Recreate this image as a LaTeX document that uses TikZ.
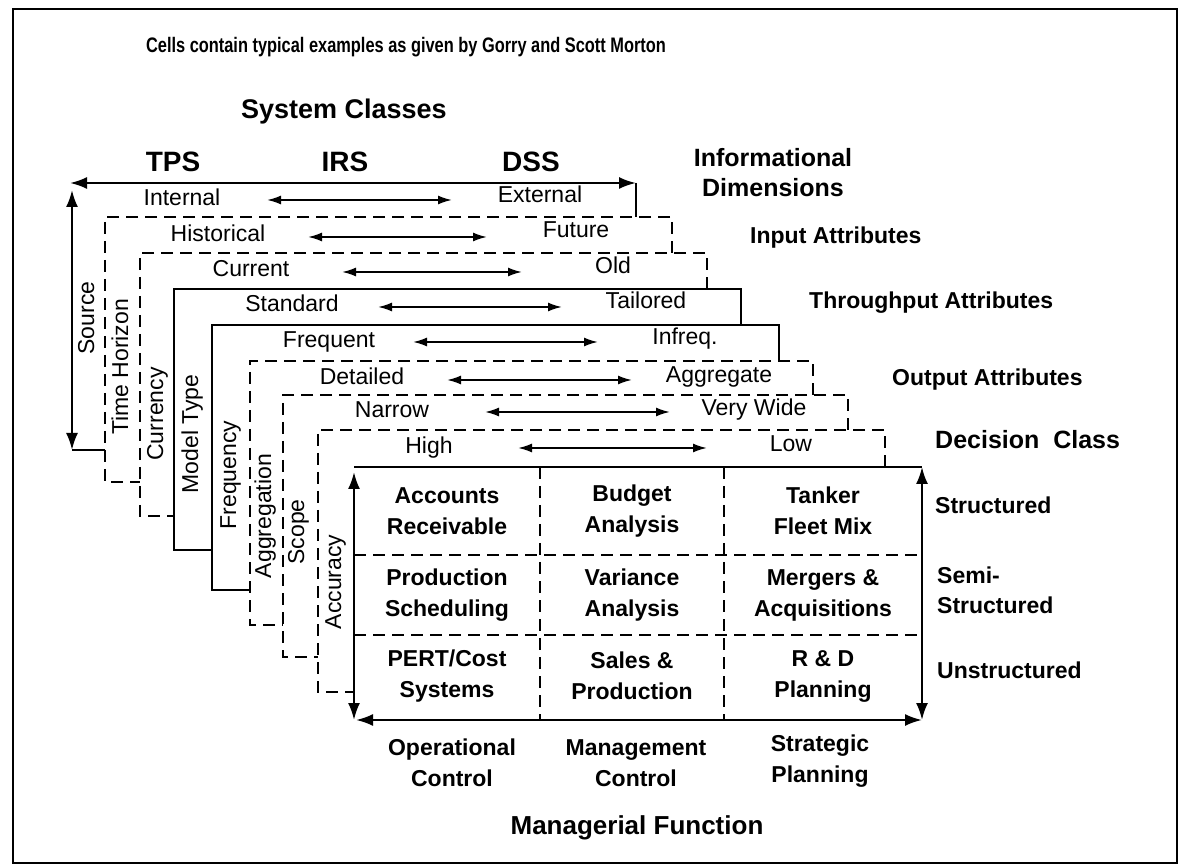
\documentclass[tikz,border=0pt]{standalone}
\usepackage{fontspec}
\setmainfont{Liberation Sans}
\usetikzlibrary{arrows.meta}
\begin{document}
\begin{tikzpicture}[x=1pt,y=-1pt,
  frameline/.style={line width=2.2pt},
  dashline/.style={line width=2pt, dash pattern=on 12pt off 7pt},
  bigarrow/.style={line width=2.2pt, {Latex[length=17pt,width=12pt]}-{Latex[length=17pt,width=12pt]}},
  pairarrow/.style={line width=1.9pt, {Latex[length=14pt,width=9pt]}-{Latex[length=14pt,width=9pt]}},
  plainlbl/.style={font=\fontsize{23}{27}\selectfont, inner sep=0pt, text height=16pt, text depth=4pt},
  vertlbl/.style={plainlbl, rotate=90},
  boldlbl/.style={font=\bfseries\fontsize{23}{31}\selectfont, inner sep=0pt, align=center},
  sidelbl/.style={font=\bfseries\fontsize{23}{30}\selectfont, inner sep=0pt, anchor=west, align=left, text height=16pt, text depth=4pt},
  headlbl/.style={font=\bfseries\fontsize{26}{30}\selectfont, inner sep=0pt},
  classlbl/.style={font=\bfseries\fontsize{28}{30}\selectfont, inner sep=0pt},
]
\useasboundingbox (0,0) rectangle (1179,866);
\draw[line width=2pt] (13,9) rectangle (1177,863);

% ---- title and headings
\node[font=\bfseries\fontsize{21}{24}\selectfont, inner sep=0pt] (title) at (406,47)
  {\scalebox{0.78}[1]{Cells contain typical examples as given by Gorry and Scott Morton}};
\node[headlbl, font=\bfseries\fontsize{27}{30}\selectfont] (sysclasses) at (344,112) {System Classes};
\node[classlbl] (tps) at (173,162) {TPS};
\node[classlbl] (irs) at (345,162) {IRS};
\node[classlbl] (dss) at (531,162) {DSS};
\node[headlbl, align=center, font=\bfseries\fontsize{25}{30}\selectfont] (infodim) at (773,173) {Informational\\Dimensions};

% ---- layer corners: left x, top y, right x, bottom y
\coordinate (L0tl) at (72,183);  \coordinate (L0tr) at (636,183);
\coordinate (L0bl) at (72,450);
\coordinate (L1tl) at (105,217); \coordinate (L1tr) at (672,217); \coordinate (L1bl) at (105,482);
\coordinate (L2tl) at (140,253); \coordinate (L2tr) at (707,253); \coordinate (L2bl) at (140,516);
\coordinate (L3tl) at (174,289); \coordinate (L3tr) at (741,289); \coordinate (L3bl) at (174,550);
\coordinate (L4tl) at (212,325); \coordinate (L4tr) at (779,325); \coordinate (L4bl) at (212,590);
\coordinate (L5tl) at (250,361); \coordinate (L5tr) at (813,361); \coordinate (L5bl) at (250,625);
\coordinate (L6tl) at (283,395); \coordinate (L6tr) at (848,395); \coordinate (L6bl) at (283,657);
\coordinate (L7tl) at (318,430); \coordinate (L7tr) at (885,430); \coordinate (L7bl) at (318,692);
\coordinate (Gtl) at (354,467);  \coordinate (Gtr) at (922,467);
\coordinate (Gbl) at (354,720);  \coordinate (Gbr) at (922,720);

% ---- source layer (arrow frame)
\coordinate (L0tip) at (70,183);
\coordinate (L0up) at (72,190);
\draw[bigarrow] (L0tip) -- (L0tr);
\draw[bigarrow] (L0up) -- (L0bl);
\draw[frameline] (L0tr) -- (L0tr |- L1tl);
\draw[frameline] (L0bl) -- (L1tl |- L0bl);

% ---- intermediate layers
\draw[dashline] (L1tr |- L2tl) -- (L1tr) -- (L1tl) -- (L1bl) -- (L2tl |- L1bl);
\draw[dashline] (L2tr |- L3tl) -- (L2tr) -- (L2tl) -- (L2bl) -- (L3tl |- L2bl);
\draw[frameline] (L3tr |- L4tl) -- (L3tr) -- (L3tl) -- (L3bl) -- (L4tl |- L3bl);
\draw[frameline] (L4tr |- L5tl) -- (L4tr) -- (L4tl) -- (L4bl) -- (L5tl |- L4bl);
\draw[dashline] (L5tr |- L6tl) -- (L5tr) -- (L5tl) -- (L5bl) -- (L6tl |- L5bl);
\draw[dashline] (L6tr |- L7tl) -- (L6tr) -- (L6tl) -- (L6bl) -- (L7tl |- L6bl);
\draw[dashline] (L7tr |- Gtl) -- (L7tr) -- (L7tl) -- (L7bl) -- (Gtl |- L7bl);

% ---- decision grid
\coordinate (Gup) at (354,472);
\coordinate (Gleft) at (356,720);
\draw[frameline] (Gtl) -- (Gtr);
\draw[bigarrow] (Gup) -- (Gbl);
\draw[bigarrow] (Gleft) -- (Gbr);
\draw[bigarrow] (Gtr) -- (Gbr);
\coordinate (c1t) at (540,467); \coordinate (c1b) at (540,720);
\coordinate (c2t) at (724,467); \coordinate (c2b) at (724,720);
\coordinate (r1l) at (354,555); \coordinate (r1r) at (922,555);
\coordinate (r2l) at (354,635); \coordinate (r2r) at (922,635);
\draw[dashline] (c1t) -- (c1b);
\draw[dashline] (c2t) -- (c2b);
\draw[dashline] (r1l) -- (r1r);
\draw[dashline] (r2l) -- (r2r);

% ---- attribute pairs on each layer
\node[plainlbl] (internal) at (182,200) {Internal};
\node[plainlbl] (external) at (540,197) {External};
\coordinate (a0s) at (267,200); \coordinate (a0e) at (452,200);
\draw[pairarrow] (a0s) -- (a0e);

\node[plainlbl] (historical) at (218,236) {Historical};
\node[plainlbl] (future) at (576,232) {Future};
\coordinate (a1s) at (308,237); \coordinate (a1e) at (487,237);
\draw[pairarrow] (a1s) -- (a1e);

\node[plainlbl] (current) at (251,271) {Current};
\node[plainlbl] (old) at (613,268) {Old};
\coordinate (a2s) at (342,272); \coordinate (a2e) at (522,272);
\draw[pairarrow] (a2s) -- (a2e);

\node[plainlbl] (standard) at (292,306) {Standard};
\node[plainlbl] (tailored) at (646,303) {Tailored};
\coordinate (a3s) at (378,307); \coordinate (a3e) at (562,307);
\draw[pairarrow] (a3s) -- (a3e);

\node[plainlbl] (frequent) at (329,342) {Frequent};
\node[plainlbl] (infreq) at (685,339) {Infreq.};
\coordinate (a4s) at (413,342); \coordinate (a4e) at (598,342);
\draw[pairarrow] (a4s) -- (a4e);

\node[plainlbl] (detailed) at (362,379) {Detailed};
\node[plainlbl] (aggregate) at (719,377) {Aggregate};
\coordinate (a5s) at (447,380); \coordinate (a5e) at (632,380);
\draw[pairarrow] (a5s) -- (a5e);

\node[plainlbl] (narrow) at (392,412) {Narrow};
\node[plainlbl] (verywide) at (754,410) {Very Wide};
\coordinate (a6s) at (485,412); \coordinate (a6e) at (670,412);
\draw[pairarrow] (a6s) -- (a6e);

\node[plainlbl] (high) at (429,448) {High};
\node[plainlbl] (low) at (791,446) {Low};
\coordinate (a7s) at (518,448); \coordinate (a7e) at (707,448);
\draw[pairarrow] (a7s) -- (a7e);

% ---- layer names
\node[vertlbl] (source) at (88,318) {Source};
\node[vertlbl] (timehorizon) at (122,367) {Time Horizon};
\node[vertlbl] (currency) at (157,414) {Currency};
\node[vertlbl] (modeltype) at (192,434) {Model Type};
\node[vertlbl] (frequency) at (230,475) {Frequency};
\node[vertlbl] (aggregation) at (265,516) {Aggregation};
\node[vertlbl] (scope) at (298,532) {Scope};
\node[vertlbl] (accuracy) at (335,582) {Accuracy};

% ---- grid cells
\node[boldlbl] (c11) at (447,511) {Accounts\\Receivable};
\node[boldlbl] (c12) at (632,511) {Budget\\Analysis};
\node[boldlbl] (c13) at (823,511) {Tanker\\Fleet Mix};
\node[boldlbl] (c21) at (447,595) {Production\\Scheduling};
\node[boldlbl] (c22) at (632,595) {Variance\\Analysis};
\node[boldlbl] (c23) at (823,595) {Mergers \&\\Acquisitions};
\node[boldlbl] (c31) at (447,676) {PERT/Cost\\Systems};
\node[boldlbl] (c32) at (632,676) {Sales \&\\Production};
\node[boldlbl] (c33) at (823,676) {R \& D\\Planning};

% ---- managerial function axis
\node[boldlbl] (opctl) at (452,763) {Operational\\Control};
\node[boldlbl] (mgmtctl) at (636,763) {Management\\Control};
\node[boldlbl] (stratpl) at (820,761) {Strategic\\Planning};
\node[headlbl] (manfunc) at (637,828) {Managerial Function};

% ---- right-hand labels
\node[sidelbl] (inputattr) at (750,238) {Input Attributes};
\node[sidelbl] (throughattr) at (809,303) {Throughput Attributes};
\node[sidelbl] (outputattr) at (892,380) {Output Attributes};
\node[sidelbl, font=\bfseries\fontsize{25}{30}\selectfont] (decclass) at (935,443) {Decision~~Class};
\node[sidelbl] (structured) at (935,508) {Structured};
\node[sidelbl, text height=, text depth=] (semistr) at (937,590) {Semi-\\Structured};
\node[sidelbl] (unstructured) at (937,672) {Unstructured};
\end{tikzpicture}
\end{document}
